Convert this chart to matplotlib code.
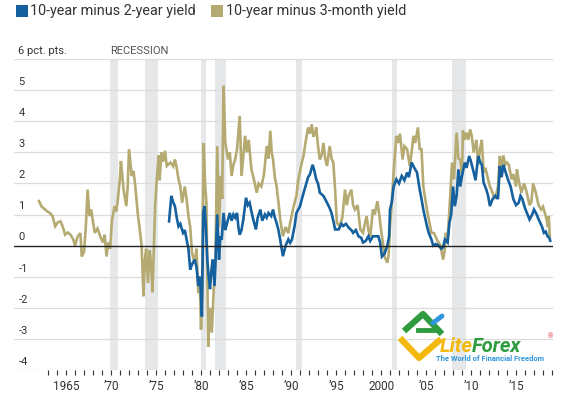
import numpy as np
import matplotlib
matplotlib.use("Agg")
import matplotlib.pyplot as plt
from matplotlib.lines import Line2D
from matplotlib.patches import Rectangle

plt.rcParams['font.family'] = ['Roboto', 'DejaVu Sans']

# 10-year minus 3-month yield, pct. pts.
m3_years = [1962.0, 1962.3, 1962.6, 1962.9, 1963.2, 1963.5, 1963.8, 1964.1, 1964.4, 1964.7,
            1964.9, 1965.2, 1965.5, 1965.8, 1966.0, 1966.3, 1966.6, 1966.75, 1967.0, 1967.2,
            1967.4, 1967.6, 1967.8, 1968.0, 1968.2, 1968.5, 1968.8, 1969.1, 1969.3, 1969.5,
            1969.7, 1969.9, 1970.1, 1970.4, 1970.6, 1970.8, 1971.0, 1971.1, 1971.4, 1971.7,
            1971.85, 1972.0, 1972.3, 1972.5, 1972.7, 1973.0, 1973.2, 1973.4, 1973.6, 1973.75,
            1973.9, 1974.1, 1974.3, 1974.45, 1974.6, 1974.75, 1974.9, 1975.1, 1975.3, 1975.4,
            1975.6, 1975.8, 1976.0, 1976.2, 1976.6, 1976.9, 1977.1, 1977.3, 1977.5, 1977.7,
            1977.9, 1978.2, 1978.4, 1978.6, 1978.8, 1979.0, 1979.3, 1979.5, 1979.7, 1979.85,
            1980.0, 1980.15, 1980.2, 1980.3, 1980.45, 1980.6, 1980.7, 1980.8, 1981.0, 1981.2,
            1981.4, 1981.6, 1981.8, 1982.0, 1982.2, 1982.35, 1982.5, 1982.7, 1983.0, 1983.2,
            1983.4, 1983.6, 1983.8, 1984.0, 1984.3, 1984.5, 1984.7, 1984.9, 1985.1, 1985.3,
            1985.6, 1985.9, 1986.2, 1986.4, 1986.7, 1987.0, 1987.3, 1987.5, 1987.7, 1987.85,
            1988.0, 1988.2, 1988.4, 1988.6, 1988.8, 1989.1, 1989.4, 1989.7, 1989.9, 1990.1,
            1990.3, 1990.6, 1990.8, 1991.0, 1991.2, 1991.4, 1991.6, 1991.9, 1992.1, 1992.3,
            1992.5, 1992.7, 1992.8, 1993.0, 1993.2, 1993.4, 1993.6, 1993.8, 1994.0, 1994.3,
            1994.5, 1994.7, 1994.9, 1995.1, 1995.4, 1995.7, 1996.0, 1996.2, 1996.4, 1996.7,
            1996.9, 1997.1, 1997.4, 1997.7, 1998.0, 1998.2, 1998.4, 1998.6, 1998.8, 1999.1,
            1999.3, 1999.6, 1999.8, 2000.0, 2000.2, 2000.4, 2000.7, 2000.85, 2001.0, 2001.2,
            2001.4, 2001.7, 2001.9, 2002.1, 2002.4, 2002.6, 2002.9, 2003.2, 2003.4, 2003.6,
            2003.8, 2004.1, 2004.3, 2004.5, 2004.7, 2005.1, 2005.4, 2005.6, 2005.9, 2006.2,
            2006.4, 2006.6, 2006.9, 2007.05, 2007.2, 2007.4, 2007.6, 2007.9, 2008.1, 2008.25,
            2008.4, 2008.6, 2008.8, 2009.0, 2009.1, 2009.3, 2009.5, 2009.7, 2009.9, 2010.1,
            2010.3, 2010.6, 2010.8, 2011.0, 2011.2, 2011.4, 2011.6, 2011.9, 2012.1, 2012.4,
            2012.6, 2012.8, 2013.0, 2013.2, 2013.4, 2013.6, 2013.8, 2014.0, 2014.2, 2014.5,
            2014.7, 2015.0, 2015.1, 2015.3, 2015.6, 2015.9, 2016.2, 2016.5, 2016.7, 2016.9,
            2017.2, 2017.5, 2017.8, 2018.0, 2018.2, 2018.4, 2018.55, 2018.65, 2018.75]
m3_vals = [1.43, 1.25, 1.18, 1.1, 1.05, 0.95, 0.62, 0.75, 0.78, 0.55,
           0.35, 0.42, 0.35, 0.2, 0.0, 0.3, 0.4, -0.35, -0.2, 0.6,
           1.8, 0.95, 1.16, 0.75, 0.41, 0.55, 0.3, 0.1, 0.35, -0.35,
           0.1, -0.1, 0.8, 1.27, 1.1, 1.6, 2.2, 2.72, 1.8, 1.27,
           1.9, 3.1, 2.24, 2.4, 1.9, 0.95, 0.5, 0.0, -1.63, -0.5,
           -0.1, -1.2, -0.15, -0.6, -1.5, -0.2, 1.27, 2.2, 2.9, 2.1,
           3.0, 2.7, 3.05, 2.56, 2.67, 2.55, 2.77, 2.5, 2.13, 1.9,
           1.38, 1.9, 1.5, 0.95, 0.6, -0.23, -0.55, -0.1, -1.53, -1.0,
           -2.7, -1.5, 0.84, 3.3, 2.0, 1.38, -1.0, -3.25, -2.0, -2.8,
           -1.5, -0.45, 3.2, 0.6, 2.24, 1.5, 5.14, 3.3, 2.77, 3.0,
           2.24, 2.6, 2.77, 3.1, 4.17, 2.24, 2.9, 3.53, 3.0, 3.4,
           2.45, 2.1, 1.7, 2.0, 1.9, 2.3, 3.2, 2.8, 3.69, 3.0,
           2.77, 2.2, 1.9, 1.4, 0.84, 0.3, 0.6, 0.4, 0.73, 1.0,
           1.27, 1.6, 2.1, 2.4, 2.67, 2.9, 3.3, 3.8, 3.6, 3.9,
           3.5, 3.66, 3.8, 3.2, 2.77, 2.9, 3.3, 2.8, 2.56, 3.2,
           2.8, 2.67, 1.8, 0.73, 0.63, 0.9, 1.8, 1.3, 1.6, 1.8,
           1.3, 1.16, 1.3, 0.52, 0.41, 0.7, 0.95, 0.5, 0.3, 1.16,
           1.0, 1.43, 1.0, 0.52, 0.1, -0.35, -0.55, -0.3, 0.62, 1.4,
           2.35, 3.53, 3.3, 3.6, 2.77, 3.2, 3.1, 2.56, 3.0, 3.53,
           3.3, 3.8, 3.1, 3.1, 1.9, 1.16, 0.7, 0.41, 0.4, 0.2,
           0.1, 0.0, -0.45, -0.2, 0.41, 0.2, 1.16, 2.67, 2.13, 2.9,
           3.63, 2.8, 2.77, 2.3, 3.7, 3.4, 3.63, 3.4, 3.74, 3.5,
           2.99, 3.4, 2.6, 3.1, 3.4, 2.35, 2.5, 2.13, 1.9, 1.7,
           1.5, 1.65, 1.9, 2.88, 2.5, 2.9, 2.6, 2.67, 2.6, 2.13,
           2.3, 1.9, 2.45, 2.1, 1.7, 2.0, 1.7, 1.3, 1.4, 2.0,
           1.7, 1.3, 1.16, 1.25, 1.06, 0.84, 0.6, 0.95, 0.3]

# 10-year minus 2-year yield, pct. pts.
y2_years = [1976.45, 1976.7, 1976.9, 1977.1, 1977.3, 1977.5, 1977.7, 1978.0, 1978.2, 1978.4,
            1978.6, 1978.8, 1979.0, 1979.3, 1979.5, 1979.7, 1979.9, 1980.1, 1980.15, 1980.25,
            1980.4, 1980.55, 1980.7, 1980.85, 1981.0, 1981.15, 1981.3, 1981.5, 1981.65, 1981.8,
            1982.0, 1982.15, 1982.3, 1982.5, 1982.7, 1982.9, 1983.2, 1983.4, 1983.6, 1983.8,
            1984.0, 1984.15, 1984.3, 1984.5, 1984.7, 1985.0, 1985.2, 1985.4, 1985.6, 1985.8,
            1986.1, 1986.3, 1986.6, 1986.8, 1987.1, 1987.3, 1987.5, 1987.8, 1988.0, 1988.2,
            1988.4, 1988.6, 1988.8, 1989.1, 1989.4, 1989.7, 1989.9, 1990.1, 1990.4, 1990.6,
            1991.0, 1991.3, 1991.6, 1991.9, 1992.1, 1992.4, 1992.6, 1992.8, 1993.0, 1993.2,
            1993.6, 1994.0, 1994.3, 1994.5, 1994.7, 1994.9, 1995.3, 1995.6, 1995.8, 1996.1,
            1996.4, 1996.7, 1996.9, 1997.2, 1997.5, 1997.8, 1998.0, 1998.3, 1998.6, 1998.8,
            1999.1, 1999.4, 1999.7, 1999.9, 2000.1, 2000.4, 2000.7, 2000.9, 2001.0, 2001.2,
            2001.4, 2001.7, 2002.0, 2002.3, 2002.6, 2002.9, 2003.1, 2003.4, 2003.7, 2004.0,
            2004.3, 2004.5, 2004.7, 2005.1, 2005.3, 2005.6, 2005.8, 2006.1, 2006.4, 2006.7,
            2006.9, 2007.1, 2007.4, 2007.6, 2007.8, 2008.0, 2008.2, 2008.4, 2008.6, 2008.8,
            2009.0, 2009.3, 2009.5, 2009.8, 2010.0, 2010.3, 2010.5, 2010.8, 2011.0, 2011.2,
            2011.4, 2011.7, 2011.9, 2012.1, 2012.4, 2012.7, 2013.0, 2013.2, 2013.4, 2013.6,
            2013.8, 2014.1, 2014.4, 2014.7, 2015.0, 2015.3, 2015.5, 2015.7, 2016.0, 2016.2,
            2016.5, 2016.8, 2017.0, 2017.3, 2017.5, 2017.7, 2017.9, 2018.1, 2018.3, 2018.5,
            2018.7, 2018.8]
y2_vals = [0.78, 1.6, 1.4, 1.27, 0.9, 0.62, 0.7, 0.41, 0.5, 0.19,
           -0.1, -0.77, -0.6, -0.45, -0.7, -1.3, -1.0, -2.28, -1.0, 1.05,
           1.27, 0.5, -0.45, -1.0, -1.4, -0.8, -0.45, -1.3, -0.2, 1.0,
           -0.45, 0.3, 0.19, 1.05, 0.5, 0.73, 1.05, 0.8, 1.0, 0.9,
           1.05, 0.6, 0.35, 0.5, 0.84, 1.54, 1.3, 1.38, 1.1, 0.84,
           0.52, 0.9, 1.16, 0.8, 1.0, 0.9, 1.05, 0.95, 1.16, 0.9,
           0.73, 0.5, 0.19, -0.34, 0.0, 0.2, 0.09, 0.19, 0.63, 1.05,
           1.27, 1.6, 1.9, 2.2, 2.29, 2.6, 2.4, 2.13, 2.0, 1.7,
           1.6, 1.38, 1.2, 1.05, 0.8, 0.52, 0.52, 0.7, 0.63, 0.7,
           0.58, 0.5, 0.41, 0.5, 0.3, 0.25, 0.1, 0.15, 0.3, 0.15,
           0.3, 0.3, 0.3, 0.1, -0.35, -0.25, 0.0, 0.3, 1.16, 1.4,
           1.9, 2.13, 2.0, 2.24, 2.1, 2.35, 2.2, 2.67, 2.5, 2.35,
           1.8, 1.5, 1.16, 0.63, 0.41, 0.2, 0.0, 0.05, 0.0, -0.1,
           -0.05, 0.2, 0.1, 0.73, 1.0, 1.9, 1.27, 1.6, 2.45, 1.9,
           2.24, 2.67, 2.5, 2.88, 2.7, 2.35, 2.1, 2.88, 2.7, 2.6,
           2.03, 1.8, 1.6, 1.27, 1.5, 1.6, 1.5, 2.56, 2.2, 2.6,
           2.4, 2.13, 1.9, 1.5, 1.3, 1.38, 1.6, 1.5, 1.2, 1.06,
           0.84, 1.0, 1.16, 1.0, 0.85, 0.73, 0.6, 0.41, 0.45, 0.3,
           0.25, 0.16]

# recessions (start, end)
rec_start = [1969.92, 1973.83, 1980.0, 1981.5, 1990.5, 2001.2, 2007.92]
rec_end = [1970.83, 1975.17, 1980.5, 1982.83, 1991.17, 2001.83, 2009.42]

major_years = [1965, 1970, 1975, 1980, 1985, 1990, 1995, 2000, 2005, 2010, 2015]
major_labels = ['1965', '\u201970', '\u201975', '\u201980', '\u201985', '\u201990',
                '\u201995', '2000', '\u201905', '\u201910', '\u201915']
y_levels = [-4, -3, -2, -1, 0, 1, 2, 3, 4, 5, 6]

blue = '#15609e'
olive = '#b5ab72'
W, H = 570, 393

fig = plt.figure(figsize=(W / 100, H / 100), dpi=100)
ax = fig.add_axes([14 / W, 1 - 370 / H, (553 - 14) / W, (370 - 59) / H])
ax.set_xlim(1959.22, 2019.11)
ax.set_ylim(-4, 6)

for s, e in zip(rec_start, rec_end):
    ax.axvspan(s, e, color='#e6e7e9', lw=0, zorder=0)

for v in y_levels:
    if v == 0:
        ax.axhline(v, color='#222222', lw=1.0, zorder=4)
    else:
        ax.axhline(v, color='#dcdcdc', lw=0.9, zorder=1)

ax.plot(m3_years, m3_vals, color=olive, lw=1.9, zorder=2, solid_joinstyle='miter')
ax.plot(y2_years, y2_vals, color=blue, lw=1.9, zorder=3, solid_joinstyle='miter')

for s in ax.spines.values():
    s.set_visible(False)
ax.set_yticks([])
ax.set_xticks(major_years)
ax.set_xticklabels(major_labels)
ax.set_xticks(list(range(1963, 2020)), minor=True)
ax.tick_params(axis='x', which='both', length=3.5, width=0.8, color='#333333',
               direction='out', pad=4, labelsize=8.5, labelcolor='#333333')

# y labels above gridlines
for v in y_levels:
    lab = '6 pct. pts.' if v == 6 else str(v)
    ax.text(0.008, v + 0.1, lab, transform=ax.get_yaxis_transform(),
            ha='left', va='bottom', fontsize=8, color='#333333')
ax.text(rec_start[0], 6.1, 'RECESSION', ha='left', va='bottom', fontsize=8, color='#555555')

# legend
fig.patches.append(Rectangle((16 / W, 1 - 17 / H), 12 / W, 12 / H, transform=fig.transFigure,
                             color=blue, lw=0))
fig.text(30 / W, 1 - 11 / H, '10-year minus 2-year yield', ha='left', va='center',
         fontsize=10.4, color='#333333')
fig.patches.append(Rectangle((211 / W, 1 - 17 / H), 12 / W, 12 / H, transform=fig.transFigure,
                             color=olive, lw=0))
fig.text(226 / W, 1 - 11 / H, '10-year minus 3-month yield', ha='left', va='center',
         fontsize=10.4, color='#333333')

# watermark
def fpx(xs, ys):
    return [x / W for x in xs], [1 - y / H for y in ys]

xs, ys = fpx([400, 419, 441], [338, 358, 339])
fig.lines.append(Line2D(xs, ys, transform=fig.transFigure, color='#f2b90c', lw=4.5,
                        solid_capstyle='butt'))
xs, ys = fpx([404, 423, 442], [331, 314, 334])
fig.lines.append(Line2D(xs, ys, transform=fig.transFigure, color='#2e9b3e', lw=4.5,
                        solid_capstyle='butt'))
xs, ys = fpx([418, 436], [330, 330])
fig.lines.append(Line2D(xs, ys, transform=fig.transFigure, color='#2e9b3e', lw=3.5))
xs, ys = fpx([433, 442], [323, 316])
fig.lines.append(Line2D(xs, ys, transform=fig.transFigure, color='#2f95dd', lw=3.5,
                        solid_capstyle='round'))
fig.text(440 / W, 1 - 346 / H, 'Lite', ha='left', va='center', fontsize=14.5,
         fontweight='bold', fontstyle='italic', color='#f2b90c')
fig.text(472 / W, 1 - 346 / H, 'Forex', ha='left', va='center', fontsize=14.5,
         fontweight='bold', fontstyle='italic', color='#2e9b3e')
fig.text(551 / W, 1 - 337 / H, '\u00ae', ha='center', va='center', fontsize=5, color='#e0474c')
fig.text(490 / W, 1 - 359 / H, 'The World of Financial Freedom', ha='center', va='center',
         fontsize=5.4, fontweight='bold', color='#2f95dd')

fig.savefig('out.png', dpi=100)
